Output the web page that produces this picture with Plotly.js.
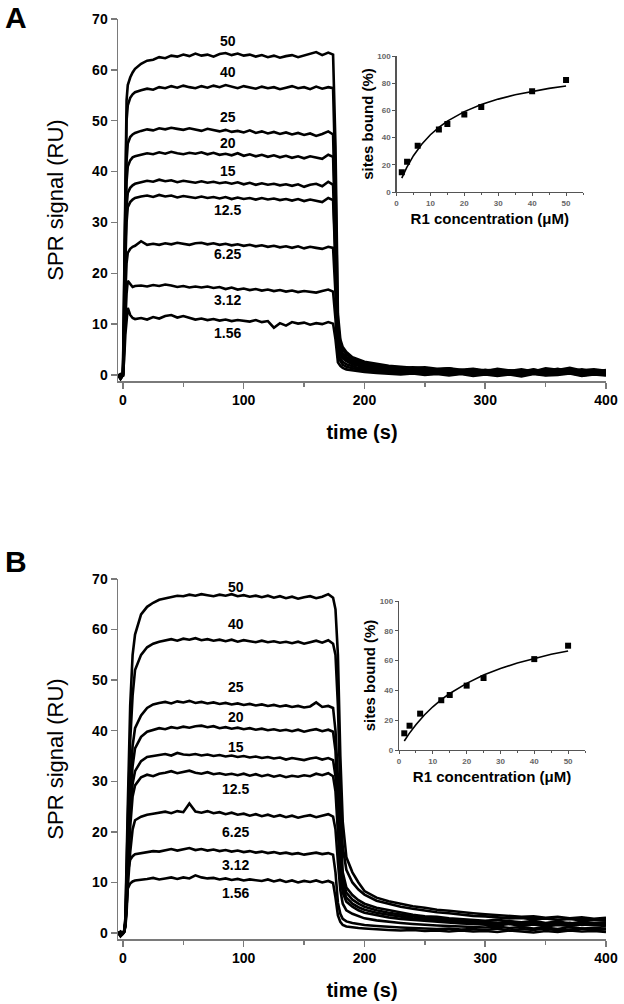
<!DOCTYPE html>
<html>
<head>
<meta charset="utf-8">
<script src="https://cdn.plot.ly/plotly-3.0.1.min.js"></script>
<style>html,body{margin:0;padding:0;background:#fff}#chart{width:624px;height:1004px}</style>
</head>
<body>
<div id="chart"></div>
<script>
// ---------- DATA ----------
const time = [
  -4,-2,0,1,2,3,4,6,8,10,
  15,20,25,30,35,40,45,50,55,60,
  65,70,75,80,85,90,95,100,105,110,
  115,120,125,130,135,140,145,150,155,160,
  165,170,174,176,178,180,182,185,190,195,
  200,210,220,230,240,250,260,270,280,290,
  300,310,320,330,340,350,360,370,380,390,
  400];

const concLabels = ["50","40","25","20","15","12.5","6.25","3.12","1.56"];

// Panel A sensorgrams (RU)
const a50 = [0,-0.5,0.3,20,45,54,57,58.5,59.5,60.2,
  61.2,61.8,62.0,62.5,62.3,62.8,62.6,63.0,62.7,63.2,
  62.8,63.0,62.6,63.1,63.3,62.9,63.2,62.8,63.0,62.6,
  62.9,62.5,62.8,62.4,62.7,62.9,62.5,62.8,63.1,63.5,
  62.9,63.4,63.0,45,12,7,5.5,4.5,3.5,3.0,
  2.6,2.2,1.8,1.6,1.4,1.5,1.2,1.3,1.0,1.2,
  0.9,1.0,0.8,1.1,0.7,1.3,1.0,1.4,0.9,1.1,
  0.8];
const a40 = [0.2,-0.8,0,18,40,50,53,54.5,55.2,55.6,
  56.0,56.3,56.1,56.6,56.4,56.8,56.5,56.9,56.6,56.4,
  56.8,56.5,56.9,56.6,57.0,56.7,56.4,56.8,56.5,56.3,
  56.7,56.4,56.6,56.2,56.5,56.8,56.4,56.6,56.2,56.7,
  56.3,56.6,56.4,38,10,6.5,5,4.0,3.2,2.7,
  2.3,1.9,1.6,1.3,1.5,1.2,1.0,1.3,0.8,1.1,
  0.7,1.2,0.9,0.6,1.0,0.8,1.2,0.7,1.1,0.6,
  1.0];
const a25 = [-0.3,0.2,0,12,32,42,45.5,46.8,47.3,47.6,
  48.0,48.3,48.1,48.5,48.3,48.6,48.4,48.2,48.5,48.3,
  48.0,48.4,48.1,47.9,48.2,47.8,48.0,47.7,48.1,47.6,
  47.9,47.5,47.8,47.4,47.7,47.3,47.6,47.2,47.5,47.0,
  47.4,47.9,47.3,30,8,5.5,4.2,3.5,2.8,2.4,
  2.0,1.6,1.3,1.1,1.3,0.9,1.1,0.8,1.0,0.7,
  1.0,0.6,0.9,0.7,1.1,0.5,0.9,1.2,0.6,0.9,
  0.5];
const a20 = [0,-0.6,0.1,10,28,38,41,42.2,42.8,43.0,
  43.3,43.6,43.4,43.8,43.5,43.9,43.6,43.4,43.7,43.5,
  43.8,43.4,43.7,43.3,43.5,43.2,43.6,43.1,43.4,43.0,
  43.3,42.9,43.2,42.8,43.1,42.7,43.0,42.6,43.0,42.8,
  42.5,43.3,42.9,27,7,5,3.8,3.1,2.5,2.1,
  1.8,1.4,1.2,0.9,1.1,0.8,1.0,0.6,0.9,0.5,
  0.8,0.4,0.7,0.9,0.5,0.8,0.4,0.9,0.6,0.8,
  0.4];
const a15 = [0.1,-0.4,0,8,25,33,35.8,36.8,37.3,37.6,
  37.9,38.2,38.0,38.4,38.1,38.3,37.9,38.2,38.0,37.8,
  38.1,37.8,38.0,37.7,37.9,37.6,37.9,37.5,37.8,37.4,
  37.7,37.4,37.6,37.3,37.5,37.2,37.5,37.0,37.4,37.6,
  37.1,38.0,37.4,24,6.5,4.5,3.5,2.9,2.3,2.0,
  1.7,1.3,1.0,0.8,1.0,0.7,0.9,0.5,0.8,0.6,
  0.4,0.8,0.5,0.7,0.3,0.8,0.6,0.4,0.7,0.5,
  0.6];
const a12 = [-0.2,0.1,0,7,22,30,33,34.0,34.5,34.8,
  35.1,35.3,35.0,35.4,35.1,35.3,34.9,35.2,35.0,34.8,
  35.1,34.8,35.0,34.7,35.0,34.6,34.9,34.6,34.8,34.5,
  34.8,34.5,34.7,34.4,34.6,34.3,34.6,34.2,34.5,34.3,
  34.0,34.8,34.4,22,6,4.2,3.3,2.7,2.1,1.8,
  1.5,1.2,0.9,0.7,0.9,0.6,0.8,0.5,0.7,0.4,
  0.7,0.3,0.6,0.4,0.7,0.3,0.6,0.8,0.4,0.6,
  0.3];
const a6 = [0,-0.5,0,6,16,22,24,24.8,25.2,25.4,
  26.3,25.6,25.8,25.6,25.9,25.7,26.0,25.8,25.6,25.9,
  26.0,25.7,25.9,25.6,25.8,25.5,25.7,25.4,25.6,25.3,
  25.5,25.2,25.4,25.1,25.3,25.0,25.3,24.9,25.2,25.0,
  24.8,25.2,25.0,16,4.5,3.3,2.6,2.1,1.7,1.4,
  1.2,0.9,0.7,0.5,0.7,0.4,0.6,0.3,0.5,0.2,
  0.5,0.2,0.4,0.1,0.5,0.2,0.4,0.6,0.2,0.4,
  0.1];
const a3 = [-0.3,0,0,5,12,16,18.5,17.8,17.3,17.5,
  17.6,17.4,17.7,17.5,17.8,17.6,17.3,17.5,17.2,17.4,
  17.2,17.4,17.1,17.3,16.9,17.2,16.8,17.0,16.7,16.9,
  16.6,16.8,16.5,16.7,16.4,16.6,16.3,16.5,16.4,16.2,
  16.5,16.8,16.4,11,3.5,2.6,2.0,1.6,1.3,1.1,
  0.9,0.7,0.5,0.3,0.5,0.2,0.4,0.1,0.3,0.0,
  0.3,0.0,0.2,-0.1,0.3,0.0,0.2,0.4,-0.1,0.2,
  0.0];
const a1 = [0,-0.8,0,3,8,11,13.2,11.8,11.2,11.0,
  11.2,10.9,11.4,11.1,11.6,11.8,11.3,11.6,11.2,10.9,
  11.1,10.8,11.0,10.7,10.9,10.6,10.8,10.7,10.5,10.8,
  10.4,10.6,9.3,10.2,9.7,10.4,10.1,10.3,9.9,10.2,
  10.0,10.4,10.1,7,2.5,1.8,1.4,1.1,0.9,0.8,
  0.6,0.4,0.3,0.1,0.3,0.0,0.2,-0.1,0.2,-0.2,
  0.1,-0.2,0.1,-0.3,0.2,-0.1,0.0,0.3,-0.2,0.1,
  -0.1];

// Panel B sensorgrams (RU)
const b50 = [0.3,-0.6,0,0.5,3,12,25,45,55,59,
  63.0,64.5,65.3,65.9,66.2,66.5,66.7,66.6,66.9,66.7,
  67.0,66.8,66.6,66.9,66.7,67.0,66.6,66.8,66.5,66.7,
  66.4,66.7,66.3,66.6,66.2,66.5,66.1,66.4,66.6,66.2,
  66.5,67.0,66.3,64,55,35,22,15,12,10,
  8.3,7.0,6.3,5.8,5.3,5.0,4.6,4.4,4.1,3.9,
  3.7,3.5,3.4,3.2,3.3,3.0,3.2,2.9,3.1,2.8,
  3.0];
const b40 = [-0.2,0.3,0,0.4,2.5,10,22,38,47,52,
  55.0,56.5,57.2,57.6,57.9,58.1,57.8,58.2,58.0,58.3,
  57.9,58.1,57.8,58.0,57.7,58.0,57.6,57.9,57.7,57.5,
  57.8,57.5,57.7,57.4,57.6,57.3,57.6,57.2,57.5,57.8,
  57.4,57.9,57.2,55,45,28,17,12.5,10,8.6,
  7.6,6.4,5.8,5.2,4.8,4.4,4.1,3.9,3.6,3.4,
  3.3,3.1,2.9,3.0,2.7,2.9,2.6,2.8,2.5,2.7,
  2.5];
const b25 = [0.1,-0.4,0,0.3,2,8,17,30,37,40.5,
  43.0,44.5,45.2,45.5,45.7,45.4,45.8,45.6,45.9,45.5,
  45.7,45.4,45.6,45.3,45.5,45.2,45.4,45.1,45.3,45.0,
  45.2,44.9,45.1,44.8,45.0,44.7,44.9,44.6,44.8,45.6,
  44.7,44.9,44.5,40,30,19,12,9,7.5,6.5,
  5.8,5.0,4.5,4.0,3.6,3.3,3.2,2.9,2.7,2.6,
  2.4,2.6,2.3,2.1,2.4,2.0,2.3,1.9,2.2,2.0,
  2.1];
const b20 = [0,-0.3,0.1,0.3,2,7,15,27,33,36.5,
  38.8,39.8,40.2,40.5,40.3,40.7,40.5,40.8,40.6,40.9,
  41.0,40.7,40.9,40.5,40.7,40.4,40.6,40.3,40.5,40.2,
  40.4,40.1,40.3,40.0,40.2,39.9,40.2,39.8,40.1,40.3,
  39.9,40.2,39.8,36,26,16,10.5,8,6.6,5.8,
  5.2,4.5,4.0,3.6,3.3,3.0,2.9,2.7,2.5,2.3,
  2.2,2.0,2.3,1.9,2.1,1.8,2.0,1.7,2.1,1.8,
  1.9];
const b15 = [0.2,-0.5,0,0.3,1.8,6,13,24,29.5,32,
  34.0,34.8,35.0,35.2,35.4,35.1,35.6,35.3,35.2,35.4,
  35.1,35.3,35.0,35.2,34.9,35.1,34.8,35.0,34.7,34.9,
  34.6,34.8,34.5,34.7,34.3,34.6,34.4,34.2,34.5,34.7,
  34.3,34.6,34.2,31,22,13.5,9,7,5.8,5.1,
  4.6,4.0,3.6,3.2,2.9,2.7,2.6,2.4,2.2,2.1,
  2.0,1.8,2.0,1.7,1.9,1.6,1.8,2.0,1.6,1.8,
  1.7];
const b12 = [-0.1,0.2,0,0.3,1.5,5,12,21,27,29.2,
  30.8,31.3,31.0,31.5,31.7,32.0,31.6,31.8,32.1,31.7,
  31.5,31.8,31.4,31.6,31.3,31.5,31.2,31.5,31.1,31.4,
  31.0,31.3,30.9,31.2,30.8,31.1,30.9,31.2,31.0,31.5,
  31.2,31.6,31.0,28,19,12,8,6.2,5.2,4.5,
  4.0,3.5,3.1,2.8,2.6,2.4,2.2,2.1,1.9,1.8,
  1.7,1.5,1.8,1.4,1.7,1.3,1.6,1.4,1.7,1.5,
  1.4];
const b6 = [0,-0.4,0,0.2,1.2,4,9,16,20.5,22.3,
  23.0,23.4,23.6,23.8,24.0,23.7,24.1,23.9,25.6,24.0,
  23.8,24.1,23.7,23.9,23.5,23.8,23.4,23.6,23.2,23.5,
  23.1,23.4,23.0,23.3,22.9,23.2,22.8,23.1,23.3,22.9,
  23.2,23.5,23.0,20.5,14,8.5,5.8,4.5,3.8,3.3,
  2.9,2.5,2.2,2.0,1.8,1.6,1.5,1.4,1.3,1.2,
  1.1,1.3,1.0,1.2,0.9,1.1,0.8,1.2,0.9,1.0,
  0.9];
const b3 = [0.2,-0.3,0,0.2,1.5,6,12,14.5,15.2,15.6,
  15.8,16.0,16.2,16.1,16.4,16.6,16.3,16.5,16.8,16.4,
  16.6,16.3,16.5,16.2,16.4,16.1,16.3,16.0,16.2,15.9,
  16.1,15.8,16.0,15.7,15.9,15.6,15.8,15.5,15.7,15.9,
  15.6,15.8,15.5,12,6,3.8,2.8,2.3,2.0,1.8,
  1.6,1.4,1.2,1.1,1.0,0.9,0.8,0.9,0.7,0.8,
  0.6,0.9,0.5,0.8,0.6,0.9,0.5,0.7,0.9,0.6,
  0.7];
const b1 = [0,-0.6,-0.2,0.3,2,6,8.8,9.8,10.2,10.4,
  10.5,10.7,10.9,10.6,10.8,11.0,10.7,11.0,10.8,11.4,
  11.0,10.8,10.9,10.6,10.8,10.5,10.7,10.4,10.6,10.5,
  10.3,10.6,10.2,10.5,10.1,10.4,10.0,10.3,10.1,10.4,
  10.0,10.3,9.9,7,3.5,2.2,1.6,1.3,1.1,1.0,
  0.9,0.7,0.6,0.5,0.6,0.4,0.5,0.3,0.5,0.3,
  0.4,0.2,0.5,0.3,0.1,0.4,0.2,0.5,0.3,0.4,
  0.2];

// Insets: sites bound (%) vs R1 concentration (µM)
const conc = [1.56,3.12,6.25,12.5,15,20,25,40,50];
const boundA = [14.5,22.3,34,46,50,57,62.5,74,82.3];
const boundB = [11.2,16.3,24.4,33.4,36.9,43.2,48.3,61,70];
const fitConc = [1.56,3,5,7.5,10,12.5,15,20,25,30,35,40,45,50];
const fitA = [10.2,17.9,26.7,35.3,42.1,47.5,52.1,59.1,64.3,68.3,71.5,74.1,76.2,78.0];
const fitB = [6.0,11.0,17.0,23.5,29.0,33.8,37.9,44.7,50.3,54.7,58.4,61.5,64.2,66.5];

const seriesA = [a50,a40,a25,a20,a15,a12,a6,a3,a1];
const seriesB = [b50,b40,b25,b20,b15,b12,b6,b3,b1];

// ---------- STYLE / LAYOUT ----------
const W = 624, H = 1004;
const FONT = "Liberation Sans, Arial, sans-serif";
const AX = "#7a7a7a";
const px = (a,b)=>[a/W, b/W];
const py = (top,bottom)=>[1-bottom/H, 1-top/H];

const traces = [];
seriesA.forEach(s=>traces.push({x:time,y:s,xaxis:'x',yaxis:'y',mode:'lines',
  line:{color:'#000',width:2.6},hoverinfo:'skip'}));
seriesB.forEach(s=>traces.push({x:time,y:s,xaxis:'x3',yaxis:'y3',mode:'lines',
  line:{color:'#000',width:2.6},hoverinfo:'skip'}));
traces.push({x:fitConc,y:fitA,xaxis:'x2',yaxis:'y2',mode:'lines',line:{color:'#000',width:1.6}});
traces.push({x:conc,y:boundA,xaxis:'x2',yaxis:'y2',mode:'markers',marker:{symbol:'square',size:6,color:'#000'}});
traces.push({x:fitConc,y:fitB,xaxis:'x4',yaxis:'y4',mode:'lines',line:{color:'#000',width:1.6}});
traces.push({x:conc,y:boundB,xaxis:'x4',yaxis:'y4',mode:'markers',marker:{symbol:'square',size:6,color:'#000'}});

function mainX(domain, anchor){
  return {domain, anchor, range:[-4.1,400], tickmode:'linear', tick0:0, dtick:100,
    ticks:'outside', ticklen:6, tickwidth:1.5, tickcolor:AX,
    minor:{dtick:50, tick0:0, ticks:'outside', ticklen:4, tickwidth:1.5, tickcolor:AX},
    showline:true, linecolor:AX, linewidth:1.5, showgrid:false, zeroline:false,
    tickfont:{family:FONT,size:14,color:'#000',weight:'bold'},
    title:{text:'time (s)', font:{family:FONT,size:20,color:'#000',weight:'bold'}, standoff:17}};
}
function mainY(domain, anchor){
  return {domain, anchor, range:[-1.18,70], tickmode:'linear', tick0:0, dtick:10,
    ticks:'outside', ticklen:6, tickwidth:1.5, tickcolor:AX,
    showline:true, linecolor:AX, linewidth:1.5, showgrid:false, zeroline:false,
    tickfont:{family:FONT,size:14,color:'#000',weight:'bold'},
    title:{text:'SPR signal (RU)', font:{family:FONT,size:22,color:'#000'}, standoff:22}};
}
function insetX(domain, anchor){
  return {domain, anchor, range:[0,55], tickmode:'linear', tick0:0, dtick:10,
    ticks:'outside', ticklen:3, tickwidth:1, tickcolor:'#555',
    minor:{dtick:5, tick0:0, ticks:'outside', ticklen:2, tickwidth:1, tickcolor:'#555'},
    showline:true, linecolor:'#555', linewidth:1.2, showgrid:false, zeroline:false,
    tickfont:{family:FONT,size:8,color:'#666',weight:'bold'},
    title:{text:'R1 concentration (μM)', font:{family:FONT,size:15,color:'#000',weight:'bold'}, standoff:6}};
}
function insetY(domain, anchor){
  return {domain, anchor, range:[0,100], tickmode:'linear', tick0:0, dtick:20,
    ticks:'outside', ticklen:3, tickwidth:1, tickcolor:'#555',
    showline:true, linecolor:'#555', linewidth:1.2, showgrid:false, zeroline:false,
    tickfont:{family:FONT,size:8,color:'#666',weight:'bold'},
    title:{text:'sites bound (%)', font:{family:FONT,size:15,color:'#000',weight:'bold'}, standoff:0}};
}

// concentration labels: placed relative to the curves at a reading time
const labelIdxA = 24, labelIdxB = 26;
const shiftA = [12,13,13,11,11,-13,-10,-11,-13];
const shiftB = [9,18,16,11,10,-14,-17,-14,-14];
const annotations = [];
seriesA.forEach((s,i)=>annotations.push({xref:'x',yref:'y',x:time[labelIdxA],y:s[labelIdxA],
  yshift:shiftA[i], xshift:2, text:concLabels[i], showarrow:false,
  font:{family:FONT,size:14,color:'#000',weight:'bold'}}));
seriesB.forEach((s,i)=>annotations.push({xref:'x3',yref:'y3',x:time[labelIdxB],y:s[labelIdxB],
  yshift:shiftB[i], xshift:-2, text:concLabels[i], showarrow:false,
  font:{family:FONT,size:14,color:'#000',weight:'bold'}}));
annotations.push({xref:'paper',yref:'paper',x:16/W,y:1-18/H,xanchor:'center',yanchor:'middle',
  text:'A',showarrow:false,font:{family:FONT,size:30,color:'#000',weight:'bold'}});
annotations.push({xref:'paper',yref:'paper',x:16/W,y:1-561/H,xanchor:'center',yanchor:'middle',
  text:'B',showarrow:false,font:{family:FONT,size:30,color:'#000',weight:'bold'}});

const layout = {
  width:W, height:H, margin:{l:0,r:0,t:0,b:0}, showlegend:false,
  paper_bgcolor:'#fff', plot_bgcolor:'rgba(0,0,0,0)',
  xaxis: mainX(px(118,606),'y'),
  yaxis: mainY(py(19,381),'x'),
  xaxis2: insetX(px(396.5,583),'y2'),
  yaxis2: insetY(py(56,192),'x2'),
  xaxis3: mainX(px(118,606),'y3'),
  yaxis3: mainY(py(579,939),'x3'),
  xaxis4: insetX(px(399,585),'y4'),
  yaxis4: insetY(py(601,750),'x4'),
  annotations
};
Plotly.newPlot('chart', traces, layout, {displayModeBar:false, staticPlot:true});
</script>
</body>
</html>
